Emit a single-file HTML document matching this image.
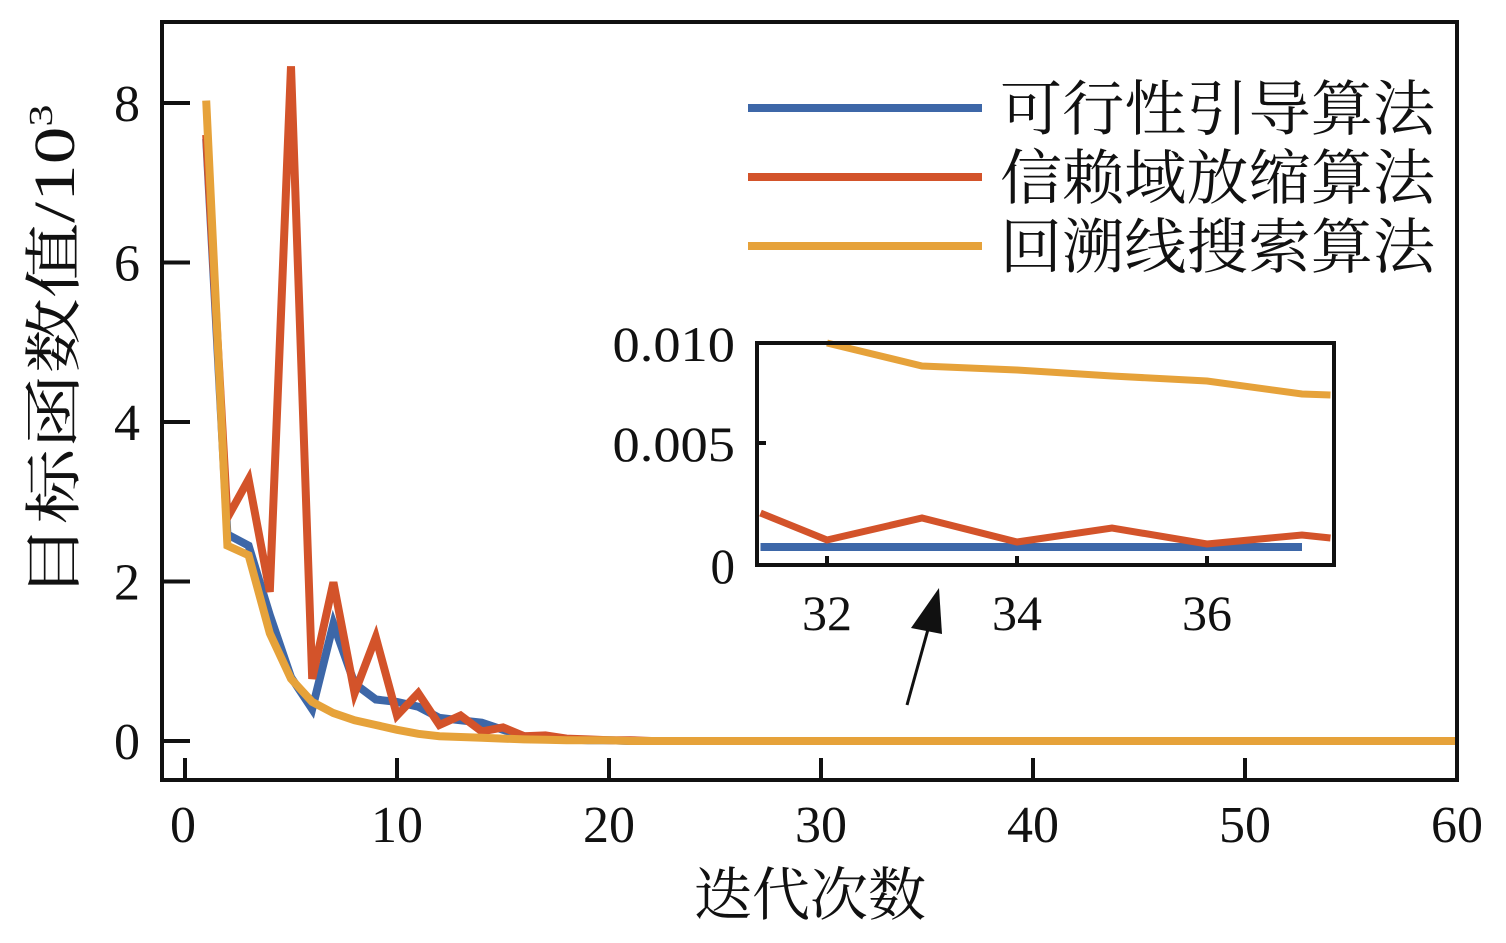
<!DOCTYPE html>
<html><head><meta charset="utf-8"><style>
html,body{margin:0;padding:0;background:#fff;}
svg{display:block;}
text{font-family:"Liberation Serif","Noto Serif CJK SC",serif;fill:#111;}
</style></head><body>
<svg id="chart" width="1506" height="943" viewBox="0 0 1506 943">
<g id="main"></g>
<g id="inset"></g>
<g id="legend"></g>
</svg>
<script>
// ---- main chart data ----
const iterations = Array.from({length:60},(_,i)=>i+1);
const feasibleGuided = [7.55,2.59,2.45,1.58,0.8,0.4,1.47,0.72,0.52,0.49,0.43,0.29,0.26,0.23,0.14,0.06,0.04,0.02,0.01,0.01,0,0,0,0,0,0,0,0,0,0,0,0,0,0,0,0,0];
const trustRegion = [7.6,2.8,3.28,1.87,8.46,0.78,1.99,0.6,1.3,0.32,0.6,0.2,0.32,0.12,0.17,0.06,0.07,0.03,0.02,0.01,0.01,0,0,0,0,0,0,0,0,0,0,0,0,0,0,0,0,0,0,0,0,0,0,0,0,0,0,0,0,0,0,0,0,0,0,0,0,0,0,0];
const backtracking = [8.03,2.45,2.33,1.35,0.78,0.49,0.35,0.26,0.2,0.14,0.09,0.06,0.05,0.04,0.03,0.02,0.015,0.01,0.01,0.01,0,0,0,0,0,0,0,0,0,0,0,0,0,0,0,0,0,0,0,0,0,0,0,0,0,0,0,0,0,0,0,0,0,0,0,0,0,0,0,0];
const xTicks = [0,10,20,30,40,50,60];
const yTicks = [0,2,4,6,8];
// ---- inset data ----
const insetIter = [31.3,32,33,34,35,36,37,37.3];
const insetFeasible = [-0.0002,-0.0002,-0.0002,-0.0002,-0.0002,-0.0002,-0.0002];
const insetTrust = [0.0015,0.00015,0.00125,0.00005,0.00075,-0.00005,0.0004,0.00025];
const insetBack = [null,0.0100,0.00885,0.00865,0.00835,0.0081,0.00745,0.0074];
const insetXTicks = [32,34,36];
const insetYTicks = [0,0.005,0.010];
const insetYLabels = ["0","0.005","0.010"];
const seriesNames = ["可行性引导算法","信赖域放缩算法","回溯线搜索算法"];
const colors = ["#3d67a8","#d3532a","#e6a23a"];

const NS="http://www.w3.org/2000/svg";
function mk(tag,attrs,parent){const e=document.createElementNS(NS,tag);for(const k in attrs)e.setAttribute(k,attrs[k]);parent.appendChild(e);return e;}
const X=v=>185+v*21.2, Y=v=>741-v*79.75;
const main=document.getElementById('main');
function poly(xs,ys,xf,yf,color,w,parent,name){
  const pts=[];xs.forEach((x,i)=>{if(i<ys.length&&ys[i]!==null)pts.push(xf(x).toFixed(1)+','+yf(ys[i]).toFixed(1));});
  const p=mk('polyline',{points:pts.join(' '),fill:'none',stroke:color,'stroke-width':w,'stroke-linejoin':'miter'},parent);
  
  
  return p;
}
poly(iterations,feasibleGuided,X,Y,colors[0],8,main,'line-feasible-guided');
poly(iterations,trustRegion,X,Y,colors[1],8,main,'line-trust-region');
poly(iterations,backtracking,X,Y,colors[2],8,main,'line-backtracking');
// frame
const fr=mk('rect',{x:162,y:22,width:1295,height:758,fill:'none',stroke:'#111','stroke-width':4},main);


yTicks.forEach(t=>{
  const l=mk('line',{x1:162,x2:190,y1:Y(t),y2:Y(t),stroke:'#111','stroke-width':4},main);
  
  
  const tx=mk('text',{x:140,y:Y(t)+18,'text-anchor':'end','font-size':52},main);tx.textContent=t;
  
  
});
xTicks.forEach(t=>{
  const l=mk('line',{x1:X(t),x2:X(t),y1:780,y2:758,stroke:'#111','stroke-width':4},main);
  
  
  const tx=mk('text',{x:X(t)-(t===0?2:0),y:842,'text-anchor':'middle','font-size':52},main);tx.textContent=t;
  
  
});
const xt=mk('text',{x:810,y:915,'text-anchor':'middle','font-size':58},main);xt.textContent='迭代次数';


const yt=mk('text',{x:0,y:0,'text-anchor':'middle','font-size':58,transform:'translate(74,352) rotate(-90)',textLength:495,lengthAdjust:'spacingAndGlyphs'},main);
yt.innerHTML='目标函数值/10<tspan dy="-22" font-size="34">3</tspan>';


// arrow
const ar=mk('line',{x1:907,y1:705,x2:932,y2:615,stroke:'#111','stroke-width':3},main);


const ah=mk('polygon',{points:'939,588 911,628 942,634',fill:'#111'},main);


// inset
const inset=document.getElementById('inset');
const IX=v=>827+(v-32)*95, IY=v=>543-v*20000;
const bg=mk('rect',{x:757,y:343,width:577,height:222,fill:'#fff'},inset);


poly(insetIter.slice(0,7),insetFeasible,IX,IY,colors[0],8,inset,'inset-line-feasible-guided');
poly(insetIter,insetTrust,IX,IY,colors[1],7,inset,'inset-line-trust-region');
poly(insetIter,insetBack,IX,IY,colors[2],7,inset,'inset-line-backtracking');
const ifr=mk('rect',{x:757,y:343,width:577,height:222,fill:'none',stroke:'#111','stroke-width':4},inset);


insetYTicks.forEach((t,i)=>{
  const yy=i===0?565:IY(t);
  if(i===1){const l=mk('line',{x1:757,x2:766,y1:yy,y2:yy,stroke:'#111','stroke-width':4},inset);
  
  }
  const tx=mk('text',{x:735,y:yy+18,'text-anchor':'end','font-size':50,textLength:insetYLabels[i].length*24.5,lengthAdjust:'spacingAndGlyphs'},inset);tx.textContent=insetYLabels[i];
  
  
});
insetXTicks.forEach(t=>{
  const l=mk('line',{x1:IX(t),x2:IX(t),y1:565,y2:556,stroke:'#111','stroke-width':4},inset);
  
  
  const tx=mk('text',{x:IX(t),y:630,'text-anchor':'middle','font-size':50},inset);tx.textContent=t;
  
  
});
// legend
const lg=document.getElementById('legend');
seriesNames.forEach((n,i)=>{
  const y=108+i*69;
  const l=mk('line',{x1:748,x2:982,y1:y,y2:y,stroke:colors[i],'stroke-width':8},lg);
  
  
  const tx=mk('text',{x:1000,y:y+22,'font-size':60,textLength:435,lengthAdjust:'spacingAndGlyphs'},lg);tx.textContent=n;
  
  
});
</script>
</body></html>
